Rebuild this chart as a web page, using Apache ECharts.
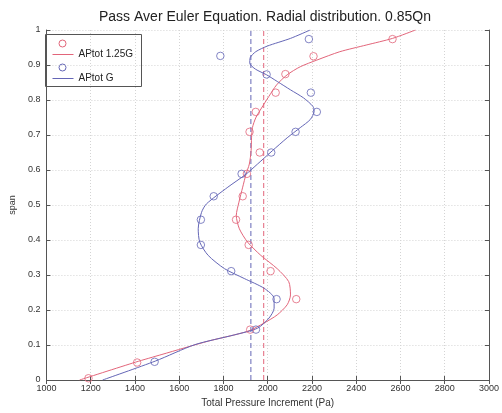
<!DOCTYPE html>
<html>
<head>
<meta charset="utf-8">
<script src="https://cdn.jsdelivr.net/npm/echarts@6/dist/echarts.min.js"></script>
<style>
  html, body { margin: 0; padding: 0; background: #fff; }
  #chart { width: 502px; height: 413px; }
</style>
</head>
<body>
<div id="chart"></div>
<script>
// Measured radial distribution: [total pressure increment (Pa), span]
const pointsHigh = [
  [1190, 0.005], [1410, 0.050], [1921, 0.144], [2129, 0.231], [2013, 0.311],
  [1914, 0.386], [1857, 0.458], [1887, 0.525], [1906, 0.589], [1964, 0.650],
  [1918, 0.709], [1946, 0.766], [2036, 0.821], [2080, 0.874], [2207, 0.925],
  [2564, 0.974]
];
const pointsNominal = [
  [1489, 0.052], [1947, 0.144], [2040, 0.231], [1835, 0.311], [1698, 0.386],
  [1698, 0.458], [1756, 0.525], [1882, 0.589], [2016, 0.650], [2126, 0.709],
  [2222, 0.766], [2195, 0.821], [1995, 0.873], [1786, 0.926], [2186, 0.974]
];

// Fitted profiles
const fitHigh = [
  [1150, 0.000], [1403, 0.051], [1522, 0.073], [1731, 0.111], [1909, 0.139],
  [1984, 0.163], [2043, 0.186], [2088, 0.215], [2103, 0.243], [2095, 0.281],
  [2043, 0.318], [1969, 0.356], [1909, 0.394], [1872, 0.432], [1858, 0.470],
  [1870, 0.508], [1887, 0.551], [1902, 0.588], [1917, 0.617], [1925, 0.655],
  [1927, 0.692], [1931, 0.721], [1946, 0.749], [1972, 0.777], [2005, 0.810],
  [2040, 0.843], [2088, 0.872], [2147, 0.895], [2222, 0.914], [2326, 0.938],
  [2445, 0.957], [2564, 0.976], [2668, 1.000]
];
const fitNominal = [
  [1254, 0.000], [1492, 0.054], [1671, 0.101], [1850, 0.129], [1954, 0.148],
  [2006, 0.177], [2029, 0.205], [2029, 0.233], [1984, 0.262], [1894, 0.290],
  [1805, 0.318], [1731, 0.356], [1693, 0.394], [1686, 0.432], [1701, 0.479],
  [1723, 0.503], [1820, 0.551], [1902, 0.588], [1954, 0.617], [2021, 0.655],
  [2088, 0.692], [2147, 0.721], [2192, 0.744], [2210, 0.768], [2204, 0.782],
  [2162, 0.806], [2103, 0.829], [2043, 0.853], [1995, 0.872], [1945, 0.888],
  [1919, 0.905], [1921, 0.921], [1946, 0.938], [1998, 0.954], [2103, 0.976],
  [2192, 1.000]
];

// Averaged values (dashed verticals)
const meanHigh = 1982;
const meanNominal = 1924;

const xTicks = [1000, 1200, 1400, 1600, 1800, 2000, 2200, 2400, 2600, 2800, 3000];
const yTicks = [0, 0.1, 0.2, 0.3, 0.4, 0.5, 0.6, 0.7, 0.8, 0.9, 1];

const legendLabels = ['APtot 1.25G', 'APtot G'];

const RED = '#e2657a';
const BLUE = '#6466b6';
const FONT = 'Liberation Sans, Arial, sans-serif';

const chart = echarts.init(document.getElementById('chart'), null, { renderer: 'canvas' });

const axisCommon = {
  axisLine: { show: true, lineStyle: { color: '#555', width: 1 } },
  axisTick: { show: true, inside: true, length: 4, lineStyle: { color: '#555' } }
};

chart.setOption({
  backgroundColor: '#fff',
  animation: false,
  title: {
    text: 'Pass Aver Euler Equation. Radial distribution. 0.85Qn',
    left: 99, top: 10, padding: 0,
    textStyle: { fontFamily: FONT, fontSize: 14, fontWeight: 'normal', color: '#222' }
  },
  grid: { left: 43, right: 11, top: 30, bottom: 30 },
  xAxis: [
    Object.assign({
      type: 'value', min: xTicks[0], max: xTicks[xTicks.length - 1], interval: 200,
      name: 'Total Pressure Increment (Pa)', nameLocation: 'middle', nameGap: 18,
      nameTextStyle: { fontFamily: FONT, fontSize: 10, color: '#333' },
      axisLabel: { fontFamily: FONT, fontSize: 9, color: '#333', margin: 4,
        formatter: v => String(v) },
      splitLine: { show: true, lineStyle: { color: '#d4d4d4', type: [1, 2] } }
    }, axisCommon),
    Object.assign({
      type: 'value', position: 'top', min: xTicks[0], max: xTicks[xTicks.length - 1], interval: 200,
      axisLabel: { show: false }, splitLine: { show: false }
    }, axisCommon)
  ],
  yAxis: [
    Object.assign({
      type: 'value', min: yTicks[0], max: yTicks[yTicks.length - 1], interval: 0.1,
      name: 'span', nameLocation: 'middle', nameGap: 24, nameRotate: 90,
      nameTextStyle: { fontFamily: FONT, fontSize: 9, color: '#333' },
      axisLabel: { fontFamily: FONT, fontSize: 9, color: '#333', margin: 6,
        formatter: v => String(Math.round(v * 10) / 10) },
      splitLine: { show: true, lineStyle: { color: '#d4d4d4', type: [1, 2] } }
    }, axisCommon),
    Object.assign({
      type: 'value', position: 'right', min: yTicks[0], max: yTicks[yTicks.length - 1], interval: 0.1,
      axisLabel: { show: false }, splitLine: { show: false }
    }, axisCommon)
  ],
  series: [
    {
      type: 'line', data: [[meanHigh, 0], [meanHigh, 1]], symbol: 'none', silent: true,
      lineStyle: { color: RED, width: 1, type: [5, 3] }, z: 2
    },
    {
      type: 'line', data: [[meanNominal, 0], [meanNominal, 1]], symbol: 'none', silent: true,
      lineStyle: { color: BLUE, width: 1, type: [5, 3] }, z: 2
    },
    {
      name: legendLabels[0], type: 'line', data: fitHigh, smooth: 0.25, symbol: 'none',
      lineStyle: { color: RED, width: 1 }, z: 3
    },
    {
      name: legendLabels[1], type: 'line', data: fitNominal, smooth: 0.25, symbol: 'none',
      lineStyle: { color: BLUE, width: 1 }, z: 3
    },
    {
      type: 'scatter', data: pointsHigh, symbol: 'circle', symbolSize: 7.5,
      itemStyle: { color: 'rgba(255,255,255,0)', borderColor: RED, borderWidth: 1 }, z: 4
    },
    {
      type: 'scatter', data: pointsNominal, symbol: 'circle', symbolSize: 7.5,
      itemStyle: { color: 'rgba(255,255,255,0)', borderColor: BLUE, borderWidth: 1 }, z: 4
    }
  ],
  graphic: [
    {
      type: 'group', left: 45, top: 34, children: [
        { type: 'rect', shape: { x: 0, y: 0, width: 96, height: 52 },
          style: { fill: '#fff', stroke: '#555', lineWidth: 1 } },
        { type: 'circle', shape: { cx: 17, cy: 9, r: 3.5 },
          style: { fill: '#fff', stroke: RED, lineWidth: 1 } },
        { type: 'line', shape: { x1: 7, y1: 20, x2: 28, y2: 20 },
          style: { stroke: RED, lineWidth: 1 } },
        { type: 'text', x: 33, y: 20,
          style: { text: legendLabels[0], fontFamily: FONT, fontSize: 10, fill: '#222', textVerticalAlign: 'middle' } },
        { type: 'circle', shape: { cx: 17, cy: 33, r: 3.5 },
          style: { fill: '#fff', stroke: BLUE, lineWidth: 1 } },
        { type: 'line', shape: { x1: 7, y1: 44, x2: 28, y2: 44 },
          style: { stroke: BLUE, lineWidth: 1 } },
        { type: 'text', x: 33, y: 44,
          style: { text: legendLabels[1], fontFamily: FONT, fontSize: 10, fill: '#222', textVerticalAlign: 'middle' } }
      ]
    }
  ]
});
</script>
</body>
</html>
